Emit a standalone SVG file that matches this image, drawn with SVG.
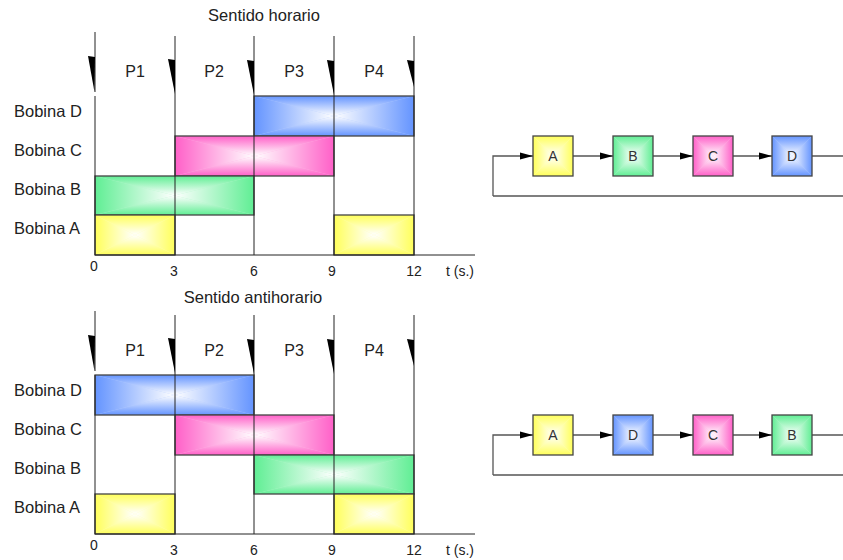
<svg xmlns="http://www.w3.org/2000/svg" xmlns:xlink="http://www.w3.org/1999/xlink" width="843" height="560" viewBox="0 0 843 560">
<style>
text{font-family:"Liberation Sans",Arial,sans-serif;fill:#222}
.ttl{font-size:16.5px;text-anchor:middle}
.row{font-size:16.5px}
.per{font-size:16px;text-anchor:middle}
.num{font-size:14px;text-anchor:middle}
.tl{font-size:14px}
.bx{font-size:14px;text-anchor:middle;fill:#333}
.grid{stroke:#222;stroke-width:1;fill:none}
.wedge{fill:#000}
.bar{fill:none;stroke:#444;stroke-width:1.3}
.conn{stroke:#555;stroke-width:1.3;fill:none}
</style>
<defs>
<linearGradient id="yT" x1="0" y1="0" x2="0" y2="1"><stop offset="0" stop-color="#ffff5a"/><stop offset="1" stop-color="#fff"/></linearGradient>
<linearGradient id="yB" x1="0" y1="1" x2="0" y2="0"><stop offset="0" stop-color="#ffff5a"/><stop offset="1" stop-color="#fff"/></linearGradient>
<linearGradient id="yL" x1="0" y1="0" x2="1" y2="0"><stop offset="0" stop-color="#ffff5a"/><stop offset="1" stop-color="#fff"/></linearGradient>
<linearGradient id="yR" x1="1" y1="0" x2="0" y2="0"><stop offset="0" stop-color="#ffff5a"/><stop offset="1" stop-color="#fff"/></linearGradient>
<linearGradient id="gT" x1="0" y1="0" x2="0" y2="1"><stop offset="0" stop-color="#60ee94"/><stop offset="1" stop-color="#fff"/></linearGradient>
<linearGradient id="gB" x1="0" y1="1" x2="0" y2="0"><stop offset="0" stop-color="#60ee94"/><stop offset="1" stop-color="#fff"/></linearGradient>
<linearGradient id="gL" x1="0" y1="0" x2="1" y2="0"><stop offset="0" stop-color="#60ee94"/><stop offset="1" stop-color="#fff"/></linearGradient>
<linearGradient id="gR" x1="1" y1="0" x2="0" y2="0"><stop offset="0" stop-color="#60ee94"/><stop offset="1" stop-color="#fff"/></linearGradient>
<linearGradient id="pT" x1="0" y1="0" x2="0" y2="1"><stop offset="0" stop-color="#ff60c8"/><stop offset="1" stop-color="#fff"/></linearGradient>
<linearGradient id="pB" x1="0" y1="1" x2="0" y2="0"><stop offset="0" stop-color="#ff60c8"/><stop offset="1" stop-color="#fff"/></linearGradient>
<linearGradient id="pL" x1="0" y1="0" x2="1" y2="0"><stop offset="0" stop-color="#ff60c8"/><stop offset="1" stop-color="#fff"/></linearGradient>
<linearGradient id="pR" x1="1" y1="0" x2="0" y2="0"><stop offset="0" stop-color="#ff60c8"/><stop offset="1" stop-color="#fff"/></linearGradient>
<linearGradient id="bT" x1="0" y1="0" x2="0" y2="1"><stop offset="0" stop-color="#6494ff"/><stop offset="1" stop-color="#fff"/></linearGradient>
<linearGradient id="bB" x1="0" y1="1" x2="0" y2="0"><stop offset="0" stop-color="#6494ff"/><stop offset="1" stop-color="#fff"/></linearGradient>
<linearGradient id="bL" x1="0" y1="0" x2="1" y2="0"><stop offset="0" stop-color="#6494ff"/><stop offset="1" stop-color="#fff"/></linearGradient>
<linearGradient id="bR" x1="1" y1="0" x2="0" y2="0"><stop offset="0" stop-color="#6494ff"/><stop offset="1" stop-color="#fff"/></linearGradient>
<symbol id="fY" viewBox="0 0 100 100" preserveAspectRatio="none"><rect width="100" height="100" fill="#ffffb0"/><polygon points="0,0 100,0 50,50" fill="url(#yT)"/><polygon points="0,100 100,100 50,50" fill="url(#yB)"/><polygon points="0,0 0,100 50,50" fill="url(#yL)"/><polygon points="100,0 100,100 50,50" fill="url(#yR)"/></symbol>
<symbol id="fG" viewBox="0 0 100 100" preserveAspectRatio="none"><rect width="100" height="100" fill="#b0f6c8"/><polygon points="0,0 100,0 50,50" fill="url(#gT)"/><polygon points="0,100 100,100 50,50" fill="url(#gB)"/><polygon points="0,0 0,100 50,50" fill="url(#gL)"/><polygon points="100,0 100,100 50,50" fill="url(#gR)"/></symbol>
<symbol id="fP" viewBox="0 0 100 100" preserveAspectRatio="none"><rect width="100" height="100" fill="#ffb0e4"/><polygon points="0,0 100,0 50,50" fill="url(#pT)"/><polygon points="0,100 100,100 50,50" fill="url(#pB)"/><polygon points="0,0 0,100 50,50" fill="url(#pL)"/><polygon points="100,0 100,100 50,50" fill="url(#pR)"/></symbol>
<symbol id="fB" viewBox="0 0 100 100" preserveAspectRatio="none"><rect width="100" height="100" fill="#b2caff"/><polygon points="0,0 100,0 50,50" fill="url(#bT)"/><polygon points="0,100 100,100 50,50" fill="url(#bB)"/><polygon points="0,0 0,100 50,50" fill="url(#bL)"/><polygon points="100,0 100,100 50,50" fill="url(#bR)"/></symbol>
<marker id="arr" markerWidth="13" markerHeight="8" refX="13" refY="4" orient="auto" markerUnits="userSpaceOnUse"><path d="M0,0.5 L13,4 L0,7.5 Z" fill="#000"/></marker>
</defs>

<!-- ===== Chart 1: Sentido horario ===== -->
<g id="chart1">
  <text class="ttl" x="264" y="21">Sentido horario</text>
  <g id="c1-bars">
    <g id="c1-bobinaD"><use href="#fB" x="254" y="96" width="160" height="40"/><rect class="bar" x="254" y="96" width="160" height="40"/></g>
    <g id="c1-bobinaC"><use href="#fP" x="175" y="136" width="159" height="40"/><rect class="bar" x="175" y="136" width="159" height="40"/></g>
    <g id="c1-bobinaB"><use href="#fG" x="95" y="176" width="159" height="39"/><rect class="bar" x="95" y="176" width="159" height="39"/></g>
    <g id="c1-bobinaA1"><use href="#fY" x="95" y="215" width="80" height="40"/><rect class="bar" x="95" y="215" width="80" height="40"/></g>
    <g id="c1-bobinaA2"><use href="#fY" x="334" y="215" width="80" height="40"/><rect class="bar" x="334" y="215" width="80" height="40"/></g>
  </g>
  <g id="c1-grid">
    <path class="grid" d="M95,32 V92 M95,96 V255 M175,36 V255 M254,36 V255 M334,36 V255 M414,36 V255 M95,255 H475"/>
    <polygon class="wedge" points="88,56 95,57 94.5,92"/>
    <polygon class="wedge" points="168,59 175,60 175,94"/>
    <polygon class="wedge" points="247,60 254,61 254,95"/>
    <polygon class="wedge" points="327,60 334,61 334,95"/>
    <polygon class="wedge" points="407,60 414,61 414,87"/>
  </g>
  <text class="per" x="135" y="77">P1</text>
  <text class="per" x="214" y="77">P2</text>
  <text class="per" x="294" y="77">P3</text>
  <text class="per" x="374" y="77">P4</text>
  <text class="row" x="14" y="117">Bobina D</text>
  <text class="row" x="14" y="156">Bobina C</text>
  <text class="row" x="14" y="195">Bobina B</text>
  <text class="row" x="14" y="234">Bobina A</text>
  <text class="num" x="94" y="271">0</text>
  <text class="num" x="174" y="276">3</text>
  <text class="num" x="254" y="276">6</text>
  <text class="num" x="332" y="276">9</text>
  <text class="num" x="414" y="276">12</text>
  <text class="tl" x="446" y="276">t (s.)</text>
</g>

<!-- ===== Chart 2: Sentido antihorario ===== -->
<g id="chart2">
  <text class="ttl" x="253" y="303">Sentido antihorario</text>
  <g id="c2-bars">
    <g id="c2-bobinaD"><use href="#fB" x="95" y="375" width="159" height="40"/><rect class="bar" x="95" y="375" width="159" height="40"/></g>
    <g id="c2-bobinaC"><use href="#fP" x="175" y="415" width="159" height="40"/><rect class="bar" x="175" y="415" width="159" height="40"/></g>
    <g id="c2-bobinaB"><use href="#fG" x="254" y="455" width="160" height="39"/><rect class="bar" x="254" y="455" width="160" height="39"/></g>
    <g id="c2-bobinaA1"><use href="#fY" x="95" y="494" width="80" height="40"/><rect class="bar" x="95" y="494" width="80" height="40"/></g>
    <g id="c2-bobinaA2"><use href="#fY" x="334" y="494" width="80" height="40"/><rect class="bar" x="334" y="494" width="80" height="40"/></g>
  </g>
  <g id="c2-grid">
    <path class="grid" d="M95,311 V371 M95,375 V534 M175,315 V534 M254,315 V534 M334,315 V534 M414,315 V534 M95,534 H475"/>
    <polygon class="wedge" points="88,335 95,336 94.5,371"/>
    <polygon class="wedge" points="168,338 175,339 175,373"/>
    <polygon class="wedge" points="247,339 254,340 254,374"/>
    <polygon class="wedge" points="327,339 334,340 334,374"/>
    <polygon class="wedge" points="407,339 414,340 414,366"/>
  </g>
  <text class="per" x="135" y="356">P1</text>
  <text class="per" x="214" y="356">P2</text>
  <text class="per" x="294" y="356">P3</text>
  <text class="per" x="374" y="356">P4</text>
  <text class="row" x="14" y="396">Bobina D</text>
  <text class="row" x="14" y="435">Bobina C</text>
  <text class="row" x="14" y="474">Bobina B</text>
  <text class="row" x="14" y="513">Bobina A</text>
  <text class="num" x="94" y="550">0</text>
  <text class="num" x="174" y="555">3</text>
  <text class="num" x="254" y="555">6</text>
  <text class="num" x="332" y="555">9</text>
  <text class="num" x="414" y="555">12</text>
  <text class="tl" x="446" y="555">t (s.)</text>
</g>

<!-- ===== Right diagram 1 connectors ===== -->
<g id="connectors1">
  <path class="conn" d="M493,196 V156 H533" marker-end="url(#arr)"/>
  <path class="conn" d="M573,156 H613" marker-end="url(#arr)"/>
  <path class="conn" d="M653,156 H693" marker-end="url(#arr)"/>
  <path class="conn" d="M733,156 H772" marker-end="url(#arr)"/>
  <path class="conn" d="M812,156 H843 M843,196 H493"/>
</g>
<g id="n1-A"><use href="#fY" x="533" y="136" width="40" height="40"/><rect class="bar" x="533" y="136" width="40" height="40"/><text class="bx" x="553" y="161">A</text></g>
<g id="n1-B"><use href="#fG" x="613" y="136" width="40" height="40"/><rect class="bar" x="613" y="136" width="40" height="40"/><text class="bx" x="633" y="161">B</text></g>
<g id="n1-C"><use href="#fP" x="693" y="136" width="40" height="40"/><rect class="bar" x="693" y="136" width="40" height="40"/><text class="bx" x="713" y="161">C</text></g>
<g id="n1-D"><use href="#fB" x="772" y="136" width="40" height="40"/><rect class="bar" x="772" y="136" width="40" height="40"/><text class="bx" x="792" y="161">D</text></g>

<!-- ===== Right diagram 2 connectors ===== -->
<g id="connectors2">
  <path class="conn" d="M493,475 V435 H533" marker-end="url(#arr)"/>
  <path class="conn" d="M573,435 H613" marker-end="url(#arr)"/>
  <path class="conn" d="M653,435 H693" marker-end="url(#arr)"/>
  <path class="conn" d="M733,435 H772" marker-end="url(#arr)"/>
  <path class="conn" d="M812,435 H843 M843,475 H493"/>
</g>
<g id="n2-A"><use href="#fY" x="533" y="415" width="40" height="40"/><rect class="bar" x="533" y="415" width="40" height="40"/><text class="bx" x="553" y="440">A</text></g>
<g id="n2-D"><use href="#fB" x="613" y="415" width="40" height="40"/><rect class="bar" x="613" y="415" width="40" height="40"/><text class="bx" x="633" y="440">D</text></g>
<g id="n2-C"><use href="#fP" x="693" y="415" width="40" height="40"/><rect class="bar" x="693" y="415" width="40" height="40"/><text class="bx" x="713" y="440">C</text></g>
<g id="n2-B"><use href="#fG" x="772" y="415" width="40" height="40"/><rect class="bar" x="772" y="415" width="40" height="40"/><text class="bx" x="792" y="440">B</text></g>
</svg>
